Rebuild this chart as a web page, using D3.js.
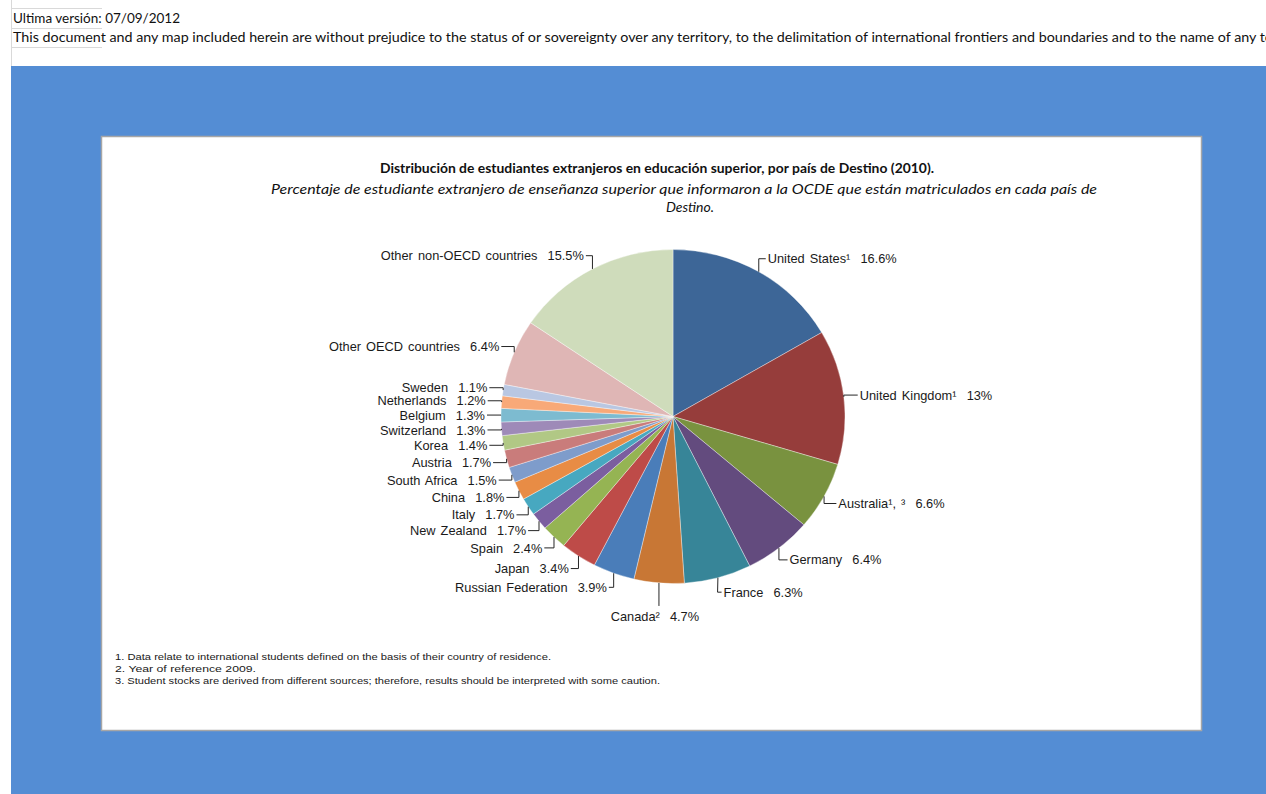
<!DOCTYPE html>
<html lang="es">
<head>
<meta charset="utf-8">
<title>Distribución de estudiantes extranjeros</title>
<script src="https://cdnjs.cloudflare.com/ajax/libs/d3/7.8.5/d3.min.js"></script>
<style>
  body { margin: 0; background: #fff; }
  svg { display: block; }
  .lbl { font-family: "Liberation Sans", Arial, sans-serif; font-size: 12.8px; fill: #1a1a1a; white-space: pre; word-spacing: 1.5px; }
  .note { font-family: "Liberation Sans", Arial, sans-serif; font-size: 9.5px; fill: #1a1a1a; }
  .hdr { font-family: Lato, "Open Sans", sans-serif; font-size: 13.5px; fill: #111; }
</style>
</head>
<body>
<script>
// datos (sentido horario desde arriba)
var countries = ["United States¹", "United Kingdom¹", "Australia¹, ³", "Germany", "France", "Canada²",
  "Russian Federation", "Japan", "Spain", "New Zealand", "Italy", "China", "South Africa", "Austria",
  "Korea", "Switzerland", "Belgium", "Netherlands", "Sweden", "Other OECD countries", "Other non-OECD countries"];
var shares = [16.6, 13, 6.6, 6.4, 6.3, 4.7, 3.9, 3.4, 2.4, 1.7, 1.7, 1.8, 1.5, 1.7, 1.4, 1.3, 1.3, 1.2, 1.1, 6.4, 15.5];
var colors = ["#3d6697", "#963d3b", "#79923f", "#634b7e", "#378598", "#c87735",
  "#4a7db9", "#be4b48", "#95b453", "#7b5e9f", "#47a8c0", "#e88c45", "#7e9ccb", "#c97c7b",
  "#b1c885", "#9e8ab8", "#7dbbd0", "#f8a978", "#b9c7e2", "#dfb6b5", "#cfdcbb"];

var title = "Distribución de estudiantes extranjeros en educación superior, por país de Destino (2010).";
var subtitle = ["Percentaje de estudiante extranjero  de enseñanza superior que informaron a la OCDE  que están matriculados en cada país de", "Destino."];
var notes = ["1. Data relate to international students defined on the basis of their country of residence.",
  "2. Year of reference 2009.",
  "3. Student stocks are derived from different sources; therefore, results should be interpreted with some caution."];
var header1 = "Ultima versión: 07/09/2012";
var header2 = "This document and any map included herein are without prejudice to the status of or sovereignty over any territory, to the delimitation of international frontiers and boundaries and to the name of any territory, city or area.";

var W = 1266, H = 794;
var svg = d3.select("body").append("svg").attr("width", W).attr("height", H);

// celdas de la hoja
var grid = svg.append("g").attr("stroke", "#d9d9d9").attr("stroke-width", 1);
grid.append("line").attr("x1", 11.5).attr("x2", 11.5).attr("y1", 0).attr("y2", 66);
[8.5, 28.5, 47.5].forEach(function (y) {
  grid.append("line").attr("x1", 11).attr("x2", 102).attr("y1", y).attr("y2", y);
});

svg.append("text").attr("class", "hdr").attr("x", 13).attr("y", 23)
  .attr("textLength", 167).attr("lengthAdjust", "spacingAndGlyphs").text(header1);
var h2 = svg.append("text").attr("class", "hdr").attr("x", 13).attr("y", 42).text(header2);
// como en la hoja original, la frase sigue mas alla del borde derecho
var cut = header2.indexOf("name of any t") + 13;
var wCut = h2.node().getSubStringLength(0, cut);
h2.style("font-size", (13.5 * 1253 / wCut) + "px");

// fondo azul
svg.append("rect").attr("x", 11).attr("y", 66).attr("width", W - 11).attr("height", H - 66).attr("fill", "#548dd4");

// area del grafico
svg.append("rect").attr("x", 101.5).attr("y", 136.5).attr("width", 1100).attr("height", 594)
  .attr("fill", "#fff").attr("stroke", "#a6a6a6").attr("stroke-width", 1.5);

svg.append("text").attr("x", 657).attr("y", 173).attr("text-anchor", "middle")
  .style("font-family", "Lato, sans-serif").style("font-weight", "bold").style("font-size", "14px").attr("fill", "#111")
  .attr("textLength", 554).attr("lengthAdjust", "spacingAndGlyphs").text(title);
subtitle.forEach(function (s, i) {
  var t = svg.append("text").attr("x", i === 0 ? 684 : 690).attr("y", 194 + i * 18).attr("text-anchor", "middle")
    .style("font-family", "Lato, sans-serif").style("font-style", "italic").style("font-size", "14px").attr("fill", "#111")
    .text(s);
  if (i === 0) t.attr("textLength", 826).attr("lengthAdjust", "spacingAndGlyphs");
});

// pastel
var cx = 673, cy = 416.5, ry = 167, sx = 172 / 167;
var data = countries.map(function (c, i) { return { name: c, share: shares[i], color: colors[i] }; });
var pie = d3.pie().sort(null).value(function (d) { return d.share; });
var arcs = pie(data);
var arc = d3.arc().innerRadius(0).outerRadius(ry);

svg.append("g").attr("transform", "translate(" + cx + "," + cy + ") scale(" + sx + ",1)")
  .selectAll("path").data(arcs).enter().append("path")
  .attr("d", arc)
  .attr("fill", function (d) { return d.data.color; })
  .attr("stroke", "#fff").attr("stroke-opacity", 0.6).attr("stroke-width", 0.6);

// etiquetas con lineas guia
var off = 14;
var lab = svg.append("g");
arcs.forEach(function (d) {
  var a = (d.startAngle + d.endAngle) / 2;
  var ux = Math.sin(a), uy = -Math.cos(a);
  var ax = cx + ry * sx * ux, ay = cy + ry * uy;
  var txt = d.data.name + "  " + d.data.share + "%";
  var pts, tx, ty, anchor;
  if (Math.abs(ux) < 0.15 && uy > 0) {
    tx = ax - 4; ty = ay + 33; anchor = "middle";
    pts = [[ax, ay], [ax, ay + 23]];
  } else {
    var side = ux > 0 ? 1 : -1;
    tx = ax + off * ux + side * 2; ty = ay + (off + 1) * uy;
    anchor = side > 0 ? "start" : "end";
    var ex = side > 0 ? Math.min(ax, tx - 6) : Math.max(ax, tx + 6);
    pts = [[ax, ay], [ex, ty], [tx - side * 2, ty]];
  }
  lab.append("path").attr("d", d3.line()(pts)).attr("fill", "none").attr("stroke", "#262626").attr("stroke-width", 1);
  lab.append("text").attr("class", "lbl").attr("x", tx).attr("y", ty).attr("dy", "0.36em")
    .attr("text-anchor", anchor).text(txt);
});

// notas
var noteW = [436, 141, 545];
notes.forEach(function (n, i) {
  svg.append("text").attr("class", "note").attr("x", 115).attr("y", 660 + i * 12)
    .attr("textLength", noteW[i]).attr("lengthAdjust", "spacingAndGlyphs").text(n);
});
</script>
</body>
</html>
